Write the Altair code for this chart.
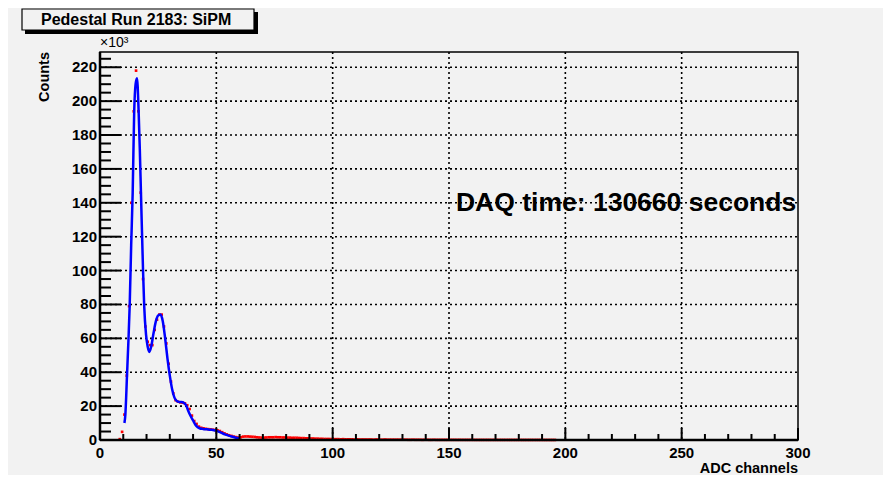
import altair as alt
import pandas as pd

W, H = 698, 388
FONT = "Liberation Sans"

# ---- data (counts in units of 10^3) ----
hist_channel = list(range(8, 196))
hist_counts = [
    0.5, 4.8, 15, 38, 79, 140, 194, 218, 194, 146,          # 8-17
    95, 67, 58, 56, 56, 65, 71, 74, 74, 67,                  # 18-27
    57, 45, 34.5, 27.5, 23.5, 22.6, 22.2, 22.0, 21.6, 20.5,  # 28-37
    18.3, 14.4, 11.2, 9.5, 7.9, 7.2, 6.9, 6.6, 6.4, 6.3,     # 38-47
    6.1, 5.9, 5.7, 5.3, 4.6, 3.9, 3.3, 2.8, 2.4, 2.0,        # 48-57
    1.7, 1.5, 1.6, 2.0, 2.1, 2.1, 2.0, 1.9, 1.8, 1.6,        # 58-67
    1.5, 1.4, 1.4, 1.5, 1.6, 1.6, 1.6, 1.7, 1.6, 1.6,        # 68-77
    1.5, 1.5, 1.4, 1.4, 1.3, 1.3, 1.3, 1.2, 1.1, 1.1,        # 78-87
    1.0, 1.0, 0.9, 0.9, 0.8, 0.8, 0.7, 0.7, 0.6, 0.6,        # 88-97
    0.6, 0.5, 0.5, 0.5, 0.5, 0.4, 0.5, 0.4, 0.4, 0.4,        # 98-107
    0.4, 0.3, 0.4, 0.3, 0.3, 0.3, 0.3, 0.3, 0.3, 0.2,        # 108-117
    0.3, 0.3, 0.2, 0.2, 0.3, 0.2, 0.2, 0.2, 0.2, 0.2,        # 118-127
    0.2, 0.2, 0.2, 0.2, 0.15, 0.15, 0.2, 0.15, 0.15, 0.15,   # 128-137
    0.1, 0.15, 0.15, 0.1, 0.1, 0.15, 0.1, 0.1, 0.1, 0.1,     # 138-147
    0.1, 0.1, 0.1, 0.1, 0.1, 0.08, 0.1, 0.08, 0.08, 0.08,    # 148-157
    0.08, 0.08, 0.08, 0.06, 0.06, 0.06, 0.06, 0.06, 0.06, 0.06,  # 158-167
    0.06, 0.06, 0.06, 0.05, 0.05, 0.05, 0.05, 0.05, 0.05, 0.05,  # 168-177
    0.05, 0.05, 0.05, 0.04, 0.04, 0.04, 0.04, 0.04, 0.04, 0.04,  # 178-187
    0.04, 0.04, 0.04, 0.03, 0.03, 0.03, 0.03, 0.03,              # 188-195
]

fit_x = [10.5, 10.9, 11.6, 12.2, 12.75, 13.4, 14.05, 14.7, 15.3, 15.9,
         16.6, 17.1, 17.6, 18.5, 19.0, 19.8, 20.5, 21.2, 22, 23,
         24, 25, 26, 27, 28, 29, 30, 31, 32, 33,
         34, 35, 36, 37, 38, 39, 40, 41, 42, 43,
         44, 45, 46, 47, 48, 49, 50, 51, 52, 53,
         54, 55, 56, 57, 58, 59, 60]
fit_y = [10, 15, 38, 58, 79, 115, 146, 194, 210, 213.5,
         194, 172, 146, 100, 79, 62, 55, 52, 55, 63,
         70, 73.5, 74, 70, 60, 48, 38, 30, 25, 23,
         22.5, 22.5, 22, 20.5, 17, 14, 11.5, 9, 7.5, 6.8,
         6.6, 6.4, 6.3, 6.1, 6.0, 5.8, 5.5, 5.0, 4.3, 3.7,
         3.2, 2.7, 2.3, 1.9, 1.5, 1.2, 1.0]

x_major = [0, 50, 100, 150, 200, 250, 300]
x_minor = [v for v in range(0, 301, 10) if v % 50]
y_major = list(range(0, 221, 20))
y_minor = [v for v in range(0, 229, 5) if v % 20]

title_text = "Pedestal Run 2183: SiPM"
daq_text = "DAQ time: 130660 seconds"

# ---- scales ----
xs = alt.Scale(domain=[0, 300], nice=False, zero=False)
ys = alt.Scale(domain=[0, 229], nice=False, zero=False)

hist_df = pd.DataFrame({"ch": [c + 0.5 for c in hist_channel], "counts": hist_counts})
fit_df = pd.DataFrame({"ch": fit_x, "counts": fit_y})
xmaj_df = pd.DataFrame({"v": x_major, "lab": [str(v) for v in x_major]})
ymaj_df = pd.DataFrame({"v": y_major, "lab": [str(v) for v in y_major]})

X = lambda f: alt.X(f, scale=xs, axis=None)
Y = lambda f: alt.Y(f, scale=ys, axis=None)

# dotted grid
xgrid = alt.Chart(xmaj_df[(xmaj_df.v > 0) & (xmaj_df.v < 300)]).mark_rule(
    color="black", strokeWidth=1.6, strokeDash=[2, 3]).encode(
    x=X("v:Q"), y=alt.value(0), y2=alt.value(H))
ygrid = alt.Chart(ymaj_df[ymaj_df.v > 0]).mark_rule(
    color="black", strokeWidth=1.6, strokeDash=[2, 3]).encode(
    y=Y("v:Q"), x=alt.value(0), x2=alt.value(W))

points = alt.Chart(hist_df).mark_square(size=7, color="#ff0000", opacity=1).encode(
    x=X("ch:Q"), y=Y("counts:Q"))

fit = alt.Chart(fit_df).mark_line(color="#0000ff", strokeWidth=2.5, interpolate="monotone").encode(
    x=X("ch:Q"), y=Y("counts:Q"))

def xticks(vals, length):
    return alt.Chart(pd.DataFrame({"v": vals})).mark_rule(color="black", strokeWidth=2).encode(
        x=X("v:Q"), y=alt.value(H), y2=alt.value(H - length))

def yticks(vals, length):
    return alt.Chart(pd.DataFrame({"v": vals})).mark_rule(color="black", strokeWidth=2).encode(
        y=Y("v:Q"), x=alt.value(0), x2=alt.value(length))

# axis lines
left_line = alt.Chart(pd.DataFrame({"v": [0]})).mark_rule(color="black", strokeWidth=2.5).encode(
    x=X("v:Q"), y=alt.value(0), y2=alt.value(H))
bottom_line = alt.Chart(pd.DataFrame({"v": [0]})).mark_rule(color="black", strokeWidth=2.5).encode(
    y=Y("v:Q"), x=alt.value(0), x2=alt.value(W))

# tick labels
xlabels = alt.Chart(xmaj_df).mark_text(font=FONT, fontWeight="bold", fontSize=15,
                                       align="center", baseline="middle", color="black").encode(
    x=X("v:Q"), y=alt.value(H + 13), text="lab:N")
ylabels = alt.Chart(ymaj_df).mark_text(font=FONT, fontWeight="bold", fontSize=15,
                                       align="right", baseline="middle", color="black").encode(
    y=Y("v:Q"), x=alt.value(-3), text="lab:N")

daq = alt.Chart(pd.DataFrame({"ch": [153], "counts": [140], "t": [daq_text]})).mark_text(
    font=FONT, fontWeight="bold", fontSize=26.5, align="left", baseline="middle", color="black"
).encode(x=X("ch:Q"), y=Y("counts:Q"), text="t:N")

one = pd.DataFrame({"t": [title_text]})
shadow = alt.Chart(one).mark_rect(color="black").encode(
    x=alt.value(-75), x2=alt.value(158), y=alt.value(-40), y2=alt.value(-18))
box = alt.Chart(one).mark_rect(fill="#f2f2f2", stroke="black", strokeWidth=1.2).encode(
    x=alt.value(-78), x2=alt.value(154), y=alt.value(-43), y2=alt.value(-22))
title = alt.Chart(one).mark_text(font=FONT, fontWeight="bold", fontSize=16, align="left",
                                 baseline="middle", color="black").encode(
    x=alt.value(-59), y=alt.value(-32), text="t:N")

exp = alt.Chart(pd.DataFrame({"t": ["×10³"]})).mark_text(
    font=FONT, fontSize=14, align="left", baseline="alphabetic", color="black"
).encode(x=alt.value(0), y=alt.value(-5), text="t:N")

ylab = alt.Chart(pd.DataFrame({"t": ["Counts"]})).mark_text(
    font=FONT, fontWeight="bold", fontSize=14.5, angle=270, align="right", baseline="middle", color="black"
).encode(x=alt.value(-55), y=alt.value(0), text="t:N")

xlab = alt.Chart(pd.DataFrame({"t": ["ADC channels"]})).mark_text(
    font=FONT, fontWeight="bold", fontSize=14.5, align="right", baseline="middle", color="black"
).encode(x=alt.value(W), y=alt.value(H + 29), text="t:N")

chart = alt.layer(
    xgrid, ygrid, points, fit,
    xticks(x_major, 12), xticks(x_minor, 6),
    yticks(y_major, 21), yticks(y_minor, 11),
    left_line, bottom_line, xlabels, ylabels,
    daq, shadow, box, title, exp, ylab, xlab,
).properties(
    width=W, height=H,
    autosize=alt.AutoSizeParams(type="none"),
    padding={"left": 92, "top": 44, "right": 85, "bottom": 35},
    background="#f2f2f2",
).configure_view(
    fill="#f2f2f2", stroke="black", strokeWidth=1.5,
)

chart.save("out.html", embed_options={"renderer": "svg", "actions": False})
